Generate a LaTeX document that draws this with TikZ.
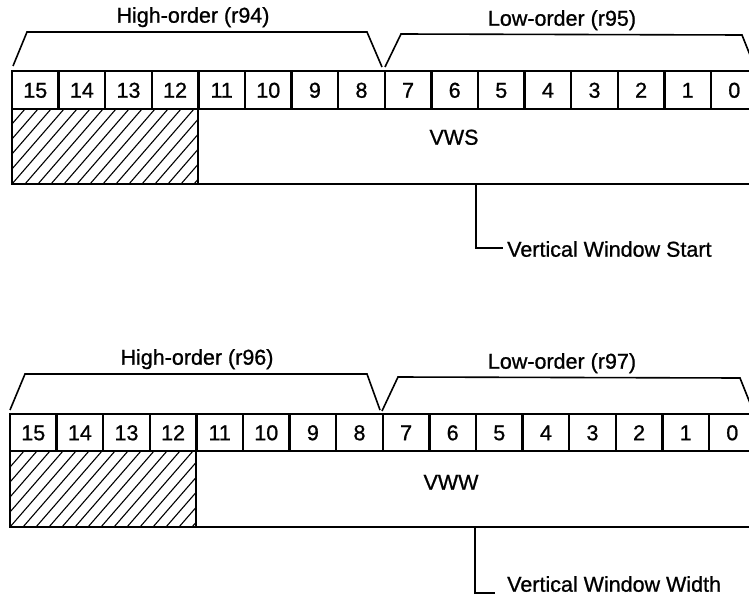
\documentclass[tikz,border=0pt]{standalone}
\usepackage{fontspec}
\setmainfont{Liberation Sans}[FakeBold=0.9]
\begin{document}
\begin{tikzpicture}[x=1pt,y=-1pt,
  txt/.style={font=\fontsize{21.5}{24}\selectfont, inner sep=0pt, text height=15.4pt, text depth=0pt},
  cell/.style={txt, draw, line width=2.2pt, minimum width=46.5pt, minimum height=38pt, anchor=center},
  field/.style={draw, line width=2.4pt, inner sep=0pt},
  brace/.style={line width=1.6pt, line join=miter},
  hatch/.style={line width=1.1pt},
  lead/.style={line width=1.6pt}]
\useasboundingbox (0,0) rectangle (749,602);
\clip (0,0) rectangle (749,602);

% ===== top register (VWS) =====
\node[txt] (h1) at (193,15) {High-order (r94)};
\node[txt] (l1) at (562,18) {Low-order (r95)};
\draw[brace] (13,66) -- (27,32) -- (367,32) -- (382,67);
\draw[brace] (385,67) -- (401,34) -- (742,35) -- (756,70);

\node[field, minimum width=572pt, minimum height=75pt] (fa) at (484,146.5) {};
\begin{scope}
  \clip (12,109) rectangle (198,184);
  \foreach \k in {-6,...,15}
    \draw[hatch] ({12+13*\k},184) -- ({12+13*\k+65},109);
\end{scope}
\node[field, minimum width=186pt, minimum height=75pt] (ra) at (105,146.5) {};
\foreach \i in {0,...,15}{
  \pgfmathtruncatemacro\b{15-\i}
  \node[cell] (a\b) at ({12+46.6*\i+23.3},90) {\b};
}
\node[txt] (vws) at (454,137) {VWS};
\coordinate (ta) at (476,184);
\coordinate (ea) at (503,248);
\node[txt, anchor=west] (da) at (507,249) {Vertical Window Start};
\draw[lead] (ta) |- (ea);

% ===== bottom register (VWW) =====
\node[txt] (h2) at (197,357) {High-order (r96)};
\node[txt] (l2) at (562,361) {Low-order (r97)};
\draw[brace] (10,410) -- (25,374) -- (367,374) -- (380,410);
\draw[brace] (382,411) -- (398,377) -- (740,378) -- (754,413);

\node[field, minimum width=574pt, minimum height=76pt] (fb) at (483,489) {};
\begin{scope}
  \clip (10,451) rectangle (196,527);
  \foreach \k in {-6,...,15}
    \draw[hatch] ({10+13*\k},527) -- ({10+13*\k+66},451);
\end{scope}
\node[field, minimum width=186pt, minimum height=76pt] (rb) at (103,489) {};
\foreach \i in {0,...,15}{
  \pgfmathtruncatemacro\b{15-\i}
  \node[cell, minimum height=37pt] (b\b) at ({10+46.6*\i+23.3},432.5) {\b};
}
\node[txt] (vww) at (451,482) {VWW};
\coordinate (tb) at (475,527);
\coordinate (eb) at (495,593);
\node[txt, anchor=west] (db) at (507,584) {Vertical Window Width};
\draw[lead] (tb) |- (eb);
\end{tikzpicture}
\end{document}
